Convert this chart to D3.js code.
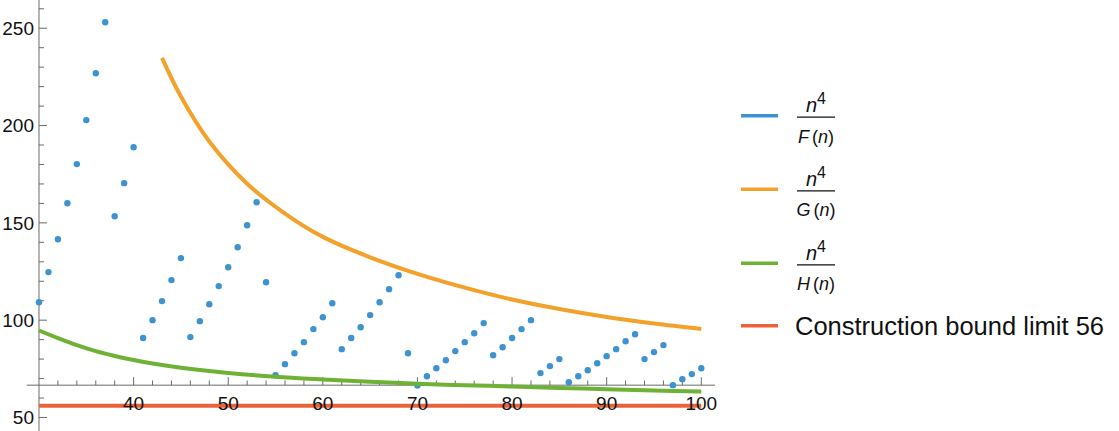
<!DOCTYPE html>
<html>
<head>
<meta charset="utf-8">
<script src="https://cdn.jsdelivr.net/npm/d3@7"></script>
<style>
  body { margin: 0; background: #fff; }
  svg { display: block; font-family: 'Liberation Sans', Arial, sans-serif; }
</style>
</head>
<body>
<svg class="main" width="1119" height="431"></svg>
<script>
// n^4 / F(n), one point per n from 30 to 100
const nValues = d3.range(30, 101);
const fValues = [
    109.2, 124.7, 141.6, 160.1, 180.2, 202.8, 226.9, 253.1, 153.4, 170.4,
    188.9, 90.8, 100.0, 109.8, 120.6, 131.9, 91.3, 99.5, 108.2, 117.5,
    127.2, 137.5, 148.8, 160.6, 119.5, 71.7, 77.4, 83.0, 88.7, 95.4,
    101.5, 108.7, 85.1, 90.8, 96.4, 102.6, 109.2, 115.9, 123.1, 83.0,
    66.4, 71.2, 75.3, 79.4, 84.1, 88.7, 93.3, 98.5, 82.0, 86.1,
    90.8, 95.4, 100.0, 72.8, 76.4, 80.0, 68.1, 71.2, 74.3, 77.9,
    81.5, 85.1, 89.2, 92.8, 80.0, 83.6, 87.2, 66.6, 69.7, 72.3,
    75.3
];

// n^4 / G(n)
const gN = [43, 45, 48, 52, 56, 60, 65, 70, 75, 80, 85, 90, 95, 100];
const gValues = [234.8, 214.9, 191.8, 170.1, 154.8, 142.8, 132.3, 123.8, 116.7, 110.6, 105.7, 101.6, 98.3, 95.5];

// n^4 / H(n)
const hN = [30, 32, 34, 36, 38, 40, 42, 45, 50, 55, 60, 65, 70, 75, 80, 85, 90, 95, 100];
const hValues = [94.7, 90.8, 87.2, 84.1, 81.6, 79.5, 77.7, 75.6, 72.9, 70.9, 69.5, 68.3, 67.3, 66.6, 65.9, 65.2, 64.5, 63.9, 63.3];

// construction bound
const boundN = [30, 100];
const boundValue = 56;

const xTickMajor = [40, 50, 60, 70, 80, 90, 100];
const yTickMajor = [50, 100, 150, 200, 250];

const legendDenominators = ['F', 'G', 'H'];
const legendText = 'Construction bound limit 56';

const colors = {
    blue: '#3d92d0',
    orange: '#f2a12b',
    green: '#6db235',
    red: '#ea6338',
    axis: '#6a6a6a',
    text: '#111'
};

const svg = d3.select('svg.main');

const x = d3.scaleLinear().domain([28.7, 101.45]).range([26.7, 715]);
const y = d3.scaleLinear().domain([43, 264]).range([431.1, 1.0]);
const axisY = 66.6;

const line = d3.line()
    .x(d => x(d[0]))
    .y(d => y(d[1]))
    .curve(d3.curveCatmullRom.alpha(0.5));

// axes
const axes = svg.append('g').attr('stroke', colors.axis).attr('stroke-width', 1);

axes.append('line')
    .attr('x1', x.range()[0])
    .attr('x2', x.range()[1])
    .attr('y1', y(axisY))
    .attr('y2', y(axisY));

axes.append('line')
    .attr('x1', x(30))
    .attr('x2', x(30))
    .attr('y1', 0)
    .attr('y2', 431);

axes.selectAll('line.xtick')
    .data(d3.range(32, 101, 2))
    .enter()
    .append('line')
    .classed('xtick', true)
    .attr('x1', d => x(d))
    .attr('x2', d => x(d))
    .attr('y1', y(axisY))
    .attr('y2', d => y(axisY) - (d % 10 === 0 ? 8 : 4.7));

axes.selectAll('line.ytick')
    .data(d3.range(50, 261, 10))
    .enter()
    .append('line')
    .classed('ytick', true)
    .attr('x1', x(30))
    .attr('x2', d => x(30) + (d % 50 === 0 ? 8 : 5))
    .attr('y1', d => y(d))
    .attr('y2', d => y(d));

// data points
svg.append('g')
    .selectAll('circle')
    .data(nValues.map((n, i) => [n, fValues[i]]))
    .enter()
    .append('circle')
    .attr('cx', d => x(d[0]))
    .attr('cy', d => y(d[1]))
    .attr('r', 3.2)
    .attr('fill', colors.blue);

// curves
svg.append('path')
    .attr('d', line(gN.map((n, i) => [n, gValues[i]])))
    .attr('fill', 'none')
    .attr('stroke', colors.orange)
    .attr('stroke-width', 4);

svg.append('path')
    .attr('d', line(hN.map((n, i) => [n, hValues[i]])))
    .attr('fill', 'none')
    .attr('stroke', colors.green)
    .attr('stroke-width', 4);

svg.append('path')
    .attr('d', line(boundN.map(n => [n, boundValue])))
    .attr('fill', 'none')
    .attr('stroke', colors.red)
    .attr('stroke-width', 4);

// tick labels
svg.append('g')
    .selectAll('text')
    .data(xTickMajor)
    .enter()
    .append('text')
    .text(d => d)
    .attr('x', d => x(d))
    .attr('y', 410)
    .attr('text-anchor', 'middle')
    .attr('font-size', 19)
    .attr('fill', colors.text);

svg.append('g')
    .selectAll('text')
    .data(yTickMajor)
    .enter()
    .append('text')
    .text(d => d)
    .attr('x', 34)
    .attr('y', d => y(d))
    .attr('dy', '0.36em')
    .attr('text-anchor', 'end')
    .attr('font-size', 19)
    .attr('fill', colors.text);

// legend
const legendRows = [115.7, 189.3, 263.3];
const legendColors = [colors.blue, colors.orange, colors.green];
const legend = svg.append('g');

legendDenominators.forEach((den, i) => {
    const ly = legendRows[i],
        cx = 816;

    legend.append('line')
        .attr('x1', 741).attr('x2', 778)
        .attr('y1', ly).attr('y2', ly)
        .attr('stroke', legendColors[i])
        .attr('stroke-width', 3.5);

    const num = legend.append('text')
        .attr('x', cx)
        .attr('y', ly - 3.5)
        .attr('text-anchor', 'middle')
        .attr('fill', colors.text)
        .attr('font-size', 20);
    num.append('tspan').attr('font-style', 'italic').text('n');
    num.append('tspan').attr('font-size', 16).attr('dy', -8).text('4');

    legend.append('line')
        .attr('x1', cx - 19).attr('x2', cx + 19)
        .attr('y1', ly + 1.5).attr('y2', ly + 1.5)
        .attr('stroke', colors.text)
        .attr('stroke-width', 1.2);

    const denom = legend.append('text')
        .attr('x', cx)
        .attr('y', ly + 27)
        .attr('text-anchor', 'middle')
        .attr('fill', colors.text)
        .attr('font-size', 18);
    denom.append('tspan').attr('font-style', 'italic').text(den);
    denom.append('tspan').attr('dx', 3).text('(');
    denom.append('tspan').attr('font-style', 'italic').text('n');
    denom.append('tspan').text(')');
});

legend.append('line')
    .attr('x1', 741).attr('x2', 778)
    .attr('y1', 325.7).attr('y2', 325.7)
    .attr('stroke', colors.red)
    .attr('stroke-width', 3.5);

legend.append('text')
    .text(legendText)
    .attr('x', 795)
    .attr('y', 334.5)
    .attr('font-size', 25.5)
    .attr('fill', colors.text);
</script>
</body>
</html>
